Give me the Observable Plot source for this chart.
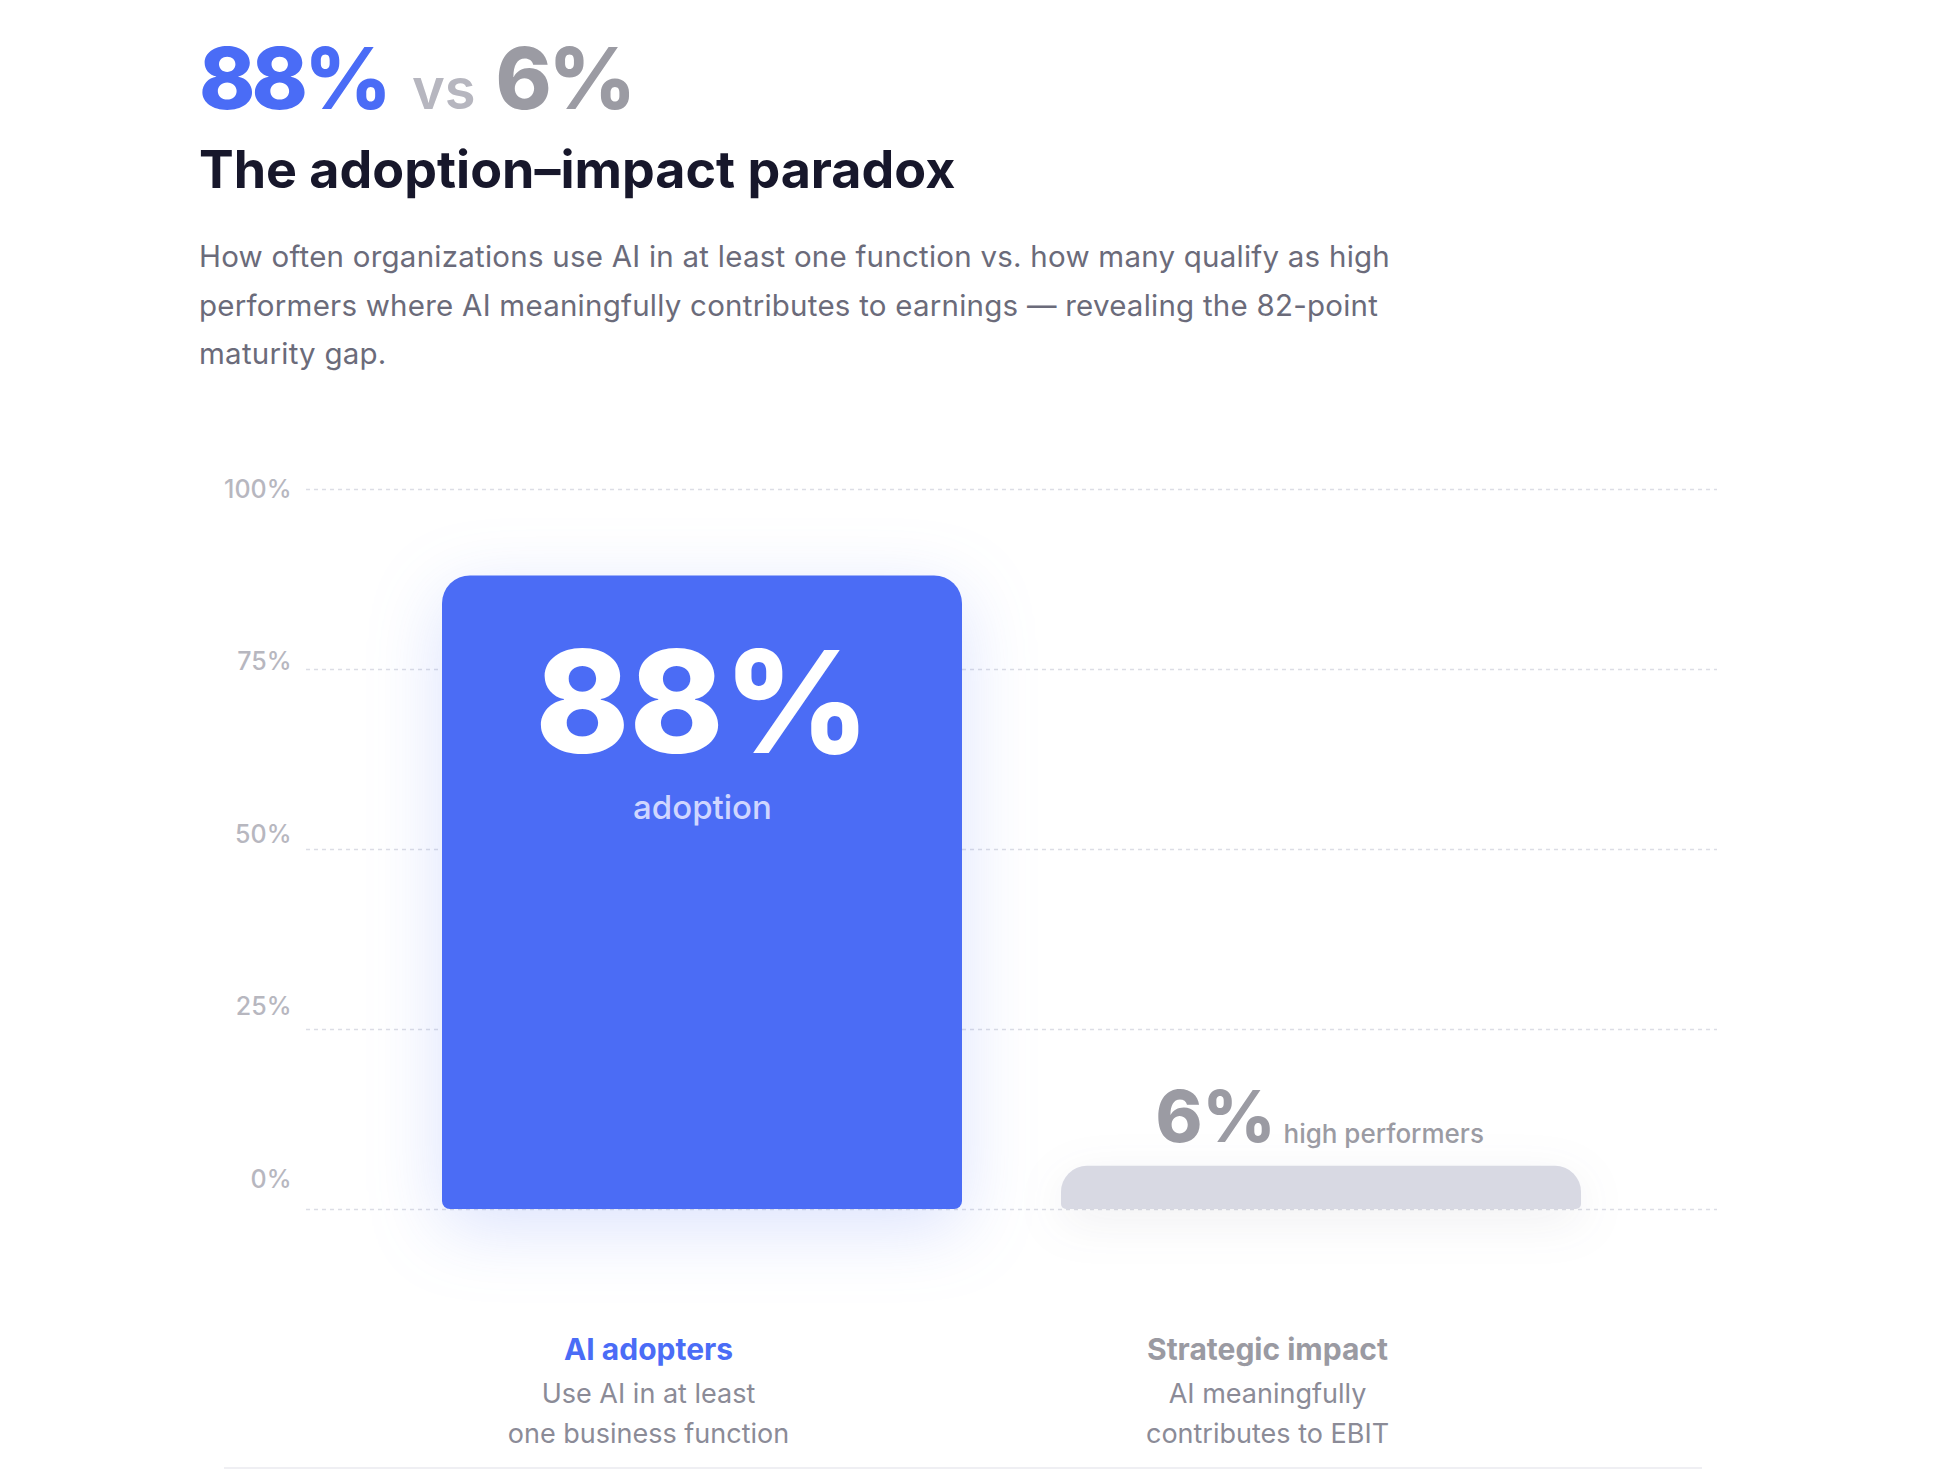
<!DOCTYPE html>
<html>
<head>
<meta charset="utf-8">
<script src="https://cdn.jsdelivr.net/npm/d3@7"></script>
<script src="https://cdn.jsdelivr.net/npm/@observablehq/plot@0.6"></script>
<style>
  html, body { margin: 0; padding: 0; background: #ffffff; }
  body { width: 1939px; height: 1470px; position: relative; overflow: hidden; font-family: Inter, "Noto Sans", sans-serif; }
  .hero { position: absolute; left: 199px; top: 36px; line-height: 1; white-space: nowrap; }
  .hero .a { font-size: 85px; font-weight: 800; color: #4a6cf6; letter-spacing: -0.045em; }
  .hero .vs { font-size: 56px; font-weight: 600; color: #b6b6bf; margin: 0 20px 0 24px; }
  .hero .b { font-size: 85px; font-weight: 800; color: #9b9ba3; letter-spacing: -0.04em; }
  h1 { position: absolute; left: 199px; top: 144px; margin: 0; font-size: 52px; line-height: 1; font-weight: 700; color: #17172b; letter-spacing: 0; white-space: nowrap; }
  .sub { position: absolute; left: 199px; top: 232px; margin: 0; width: 1250px; font-size: 29.5px; line-height: 48.5px; color: #6b6b7a; letter-spacing: 0.008em; }
  #chart { position: absolute; left: 0; top: 440px; }
  .rule { position: absolute; left: 224px; width: 1478px; top: 1467px; height: 0; border-top: 2px solid #efeff3; }
</style>
</head>
<body>
<div class="hero"><span class="a">88%</span><span class="vs">vs</span><span class="b">6%</span></div>
<h1>The adoption–impact paradox</h1>
<p class="sub">How often organizations use AI in at least one function vs. how many qualify as high performers where AI meaningfully contributes to earnings — revealing the 82-point maturity gap.</p>
<div id="chart"></div>
<div class="rule"></div>
<script>
// ---- data ----
const categories = ["AI adopters", "Strategic impact"];
const values = [88, 6];
const valueLabels = ["88%", "6%"];
const innerCaptions = ["adoption", "high performers"];
const descriptions = ["Use AI in at least\none business function", "AI meaningfully\ncontributes to EBIT"];
const yTicks = [0, 25, 50, 75, 100];
const yTickLabels = ["0%", "25%", "50%", "75%", "100%"];

const rows = categories.map((c, i) => ({category: c, value: values[i], label: valueLabels[i], caption: innerCaptions[i], desc: descriptions[i]}));
const ticks = yTicks.map((t, i) => ({t, label: yTickLabels[i]}));
const adopters = rows.filter((d, i) => i === 0);
const impact = rows.filter((d, i) => i === 1);

const chart = Plot.plot({
  width: 1939,
  height: 1030,
  marginLeft: 306,
  marginRight: 222,
  marginTop: 49,
  marginBottom: 261,
  style: {fontFamily: "Inter, 'Noto Sans', sans-serif", background: "transparent", overflow: "visible"},
  x: {domain: categories, paddingInner: 0.16, paddingOuter: 0.218, axis: null},
  y: {domain: [0, 100], axis: null},
  marks: [
    Plot.ruleY(yTicks, {stroke: "#dcdde5", strokeWidth: 1.5, strokeDasharray: "4,4"}),
    Plot.text(ticks, {
      y: d => 4.1 + d.t * 0.959, text: "label", frameAnchor: "left", dx: -15,
      textAnchor: "end", fontSize: 25, fontWeight: 500, fill: "#b7b7bf"
    }),
    Plot.barY(adopters, {
      x: "category", y: "value", fill: "#4b6cf5",
      rx1y1: 28, rx2y1: 28, rx1y2: 8, rx2y2: 8, className: "bar-a"
    }),
    Plot.barY(impact, {
      x: "category", y: "value", fill: "#d8d9e3",
      rx1y1: 26, rx2y1: 26, rx1y2: 5, rx2y2: 5, className: "bar-b"
    }),
    // inside big bar
    Plot.text(adopters, {x: "category", y: "value", text: "label", dy: 132, fontSize: 142, fontWeight: 800, fill: "#ffffff", letterSpacing: "-0.02em"}),
    Plot.text(adopters, {x: "category", y: "value", text: "caption", dy: 233, fontSize: 33, fontWeight: 500, fill: "#cfd6ff"}),
    // above small bar
    Plot.text(impact, {x: "category", y: "value", text: "label", dy: -47, dx: -46, textAnchor: "end", fontSize: 71, fontWeight: 800, fill: "#9b9ba3", letterSpacing: "-0.02em"}),
    Plot.text(impact, {x: "category", y: "value", text: "caption", dy: -32, dx: -38, textAnchor: "start", fontSize: 26, fontWeight: 500, fill: "#9b9ba3"}),
    // category labels below
    Plot.text(rows, {x: "category", text: "category", frameAnchor: "bottom", dy: 150, dx: -54, fontSize: 30, fontWeight: 700,
      fill: d => d.category === categories[0] ? "#4a6cf6" : "#9a9aa2"}),
    Plot.text(rows, {x: "category", text: "desc", frameAnchor: "bottom", lineAnchor: "top", dy: 165, dx: -54, lineHeight: 1.48,
      fontSize: 27, fontWeight: 400, fill: "#8b8b97"})
  ]
});
document.getElementById("chart").appendChild(chart);
d3.select(chart).selectAll(".bar-a").style("filter", "drop-shadow(0px 18px 36px rgba(75,108,245,0.20))");
d3.select(chart).selectAll(".bar-b").style("filter", "drop-shadow(0px 12px 24px rgba(60,60,90,0.08))");
</script>
</body>
</html>
